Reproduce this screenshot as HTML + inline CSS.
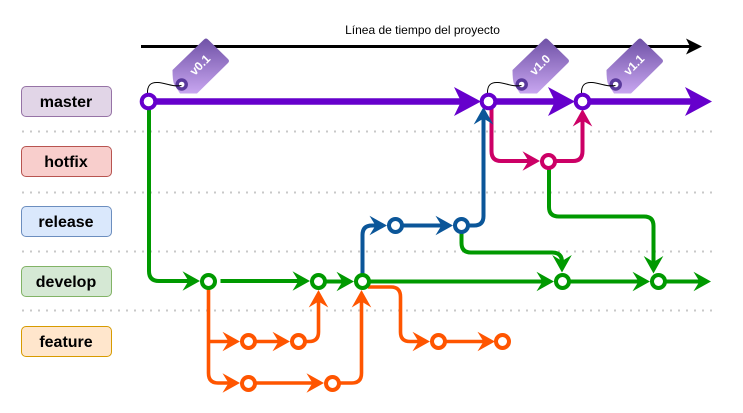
<!DOCTYPE html>
<html><head><meta charset="utf-8">
<style>
html,body{margin:0;padding:0;background:#fff;width:743px;height:413px;overflow:hidden}
svg{display:block}
text{font-family:"Liberation Sans",sans-serif}
.l{font-size:16px;font-weight:bold;text-anchor:middle;fill:#000}
.t{font-size:12px;font-weight:bold;fill:#fff;text-anchor:middle}
.d{stroke:#c8c8c8;stroke-width:2;stroke-dasharray:2 6;fill:none}
.p{fill:none;stroke-width:4;stroke-linejoin:round}
.n{fill:#fff;stroke-width:4}
</style></head><body>
<svg width="743" height="413" viewBox="0 0 743 413" xmlns="http://www.w3.org/2000/svg">
<defs>
<linearGradient id="g" x1="0" y1="0" x2="0" y2="1"><stop offset="0" stop-color="#6f51a6"/><stop offset="1" stop-color="#c8a6f0"/></linearGradient>
<path id="a" d="M0 0L-17.500 9.800L-11.500 0L-17.500 -9.800Z"/>
<path id="A" d="M0 0L-27 14.500L-20 0L-27 -14.500Z"/>
<g id="tag">
<path d="M204 39.500Q206 37.500 208 39.500L228 59Q230 61 228 63L197 93.500L180 93.500L174 84Q172.500 80 172.500 70Z" fill="url(#g)"/>
<circle cx="181.700" cy="84.500" r="4.500" fill="#fff" stroke="#5a3a9c" stroke-width="3.500"/>
<path d="M147.500 94C147 85 151 82 158 82.500C166 83 172 87 181.500 85.500" fill="none" stroke="#000" stroke-width="1"/>
</g>
</defs>

<text x="422.500" y="34" font-size="12" text-anchor="middle" fill="#000">Línea de tiempo del proyecto</text>
<path d="M141 46.500H690" stroke="#000" stroke-width="3" fill="none"/>
<path d="M702 46.500L686 54.500L690 46.500L686 38.500Z" fill="#000"/>

<path class="d" d="M22 131.500H713M22 192.500H713M22 251.500H713M22 310.500H713"/>

<g stroke-width="1">
<rect x="21.500" y="86.500" width="90" height="30" rx="4.500" fill="#e1d5e7" stroke="#9673a6"/>
<rect x="21.500" y="146.500" width="90" height="30" rx="4.500" fill="#f8cecc" stroke="#b85450"/>
<rect x="21.500" y="206.500" width="90" height="30" rx="4.500" fill="#dae8fc" stroke="#6c8ebf"/>
<rect x="21.500" y="266.500" width="90" height="30" rx="4.500" fill="#d5e8d4" stroke="#82b366"/>
<rect x="21.500" y="326.500" width="90" height="30" rx="4.500" fill="#ffe6cc" stroke="#d79b00"/>
</g>
<text class="l" x="66" y="107">master</text>
<text class="l" x="66" y="167">hotfix</text>
<text class="l" x="66" y="227">release</text>
<text class="l" x="66" y="287">develop</text>
<text class="l" x="66" y="347">feature</text>

<!-- green long -->
<g stroke="#009900" class="p">
<path d="M149 105V271Q149 281 159 281H190"/>
<path d="M220.500 281H300"/>
<path d="M318 281.500H344"/>
<path d="M362 281.500H544"/>
<path d="M562 281.500H640"/>
<path d="M658 281.500H702"/>
<path d="M549 168V207Q549 216.500 559 216.500H644Q653.500 216.500 653.500 226V265"/>
<path d="M461.500 232V243Q461.500 252.500 471 252.500H552Q562 252.500 562 262V264"/>
</g>
<g fill="#009900">
<use href="#a" transform="translate(200 281)"/>
<use href="#a" transform="translate(310 281)"/>
<use href="#a" transform="translate(354 281.500)"/>
<use href="#a" transform="translate(554 281.500)"/>
<use href="#a" transform="translate(650 281.500)"/>
<use href="#a" transform="translate(711 281.500)"/>
<use href="#a" transform="translate(653.500 273.500) rotate(90)"/>
<use href="#a" transform="translate(562 272.500) rotate(90)"/>
</g>

<!-- hotfix -->
<g stroke="#cc0066" class="p">
<path d="M491.500 106V151Q491.500 161 501 161H530"/>
<path d="M548 161H573Q582.500 161 582.500 151V120"/>
</g>
<g fill="#cc0066">
<use href="#a" transform="translate(540 161)"/>
<use href="#a" transform="translate(582.500 109) rotate(-90)"/>
</g>

<!-- release -->
<g stroke="#0b5699" class="p">
<path d="M362.500 275V235Q362.500 225.500 372 225.500H378"/>
<path d="M395 225.500H444"/>
<path d="M461 225.500H474Q483.500 225.500 483.500 216V118"/>
</g>
<g fill="#0b5699">
<use href="#a" transform="translate(387 225.500)"/>
<use href="#a" transform="translate(453 225.500)"/>
<use href="#a" transform="translate(483.500 107) rotate(-90)"/>
</g>

<!-- feature -->
<g stroke="#ff5500" class="p" style="stroke-width:3.600">
<path d="M208.500 288V373Q208.500 383 218 383H232"/>
<path d="M208.500 341.500H232"/>
<path d="M248 341.500H281"/>
<path d="M298 341.500H309Q318.500 341.500 318.500 332V300"/>
<path d="M248 383H315"/>
<path d="M332 383H352Q361.500 383 361.500 373V300"/>
<path d="M368 287H391Q400.500 287 400.500 297V332Q400.500 341.500 410 341.500H422"/>
<path d="M438 341.500H486"/>
</g>
<g fill="#ff5500">
<use href="#a" transform="translate(240 341.500)"/>
<use href="#a" transform="translate(290 341.500)"/>
<use href="#a" transform="translate(240 383)"/>
<use href="#a" transform="translate(324 383)"/>
<use href="#a" transform="translate(318.500 290) rotate(-90)"/>
<use href="#a" transform="translate(361.500 290) rotate(-90)"/>
<use href="#a" transform="translate(430 341.500)"/>
<use href="#a" transform="translate(495 341.500)"/>
</g>

<!-- master -->
<g stroke="#6600cc" stroke-width="6.500" fill="none">
<path d="M148 101.500H464"/>
<path d="M488 101.500H558"/>
<path d="M582 101.500H695"/>
</g>
<g fill="#6600cc">
<use href="#A" transform="translate(481 101.500)"/>
<use href="#A" transform="translate(575 101.500)"/>
<use href="#A" transform="translate(712 101.500)"/>
</g>

<!-- tags -->
<use href="#tag"/>
<use href="#tag" transform="translate(340 0)"/>
<use href="#tag" transform="translate(434 0)"/>
<text class="t" transform="translate(200 65) rotate(-45)" y="4">v0.1</text>
<text class="t" transform="translate(540 65) rotate(-45)" y="4">v1.0</text>
<text class="t" transform="translate(634 65) rotate(-45)" y="4">v1.1</text>

<!-- nodes -->
<g class="n" stroke="#6600cc">
<circle cx="148.500" cy="101.500" r="6.800"/>
<circle cx="488.500" cy="101.500" r="6.800"/>
<circle cx="582.500" cy="101.500" r="6.800"/>
</g>
<g class="n" stroke="#cc0066"><circle cx="548.500" cy="161.500" r="6.500"/></g>
<g class="n" stroke="#0b5699">
<circle cx="395.500" cy="225.500" r="6.500"/>
<circle cx="461.500" cy="225.500" r="6.500"/>
</g>
<g class="n" stroke="#009900">
<circle cx="208.500" cy="281.500" r="6.500"/>
<circle cx="318.500" cy="281.500" r="6.500"/>
<circle cx="362.500" cy="281.500" r="6.500"/>
<circle cx="562.500" cy="281.500" r="6.500"/>
<circle cx="658.500" cy="281.500" r="6.500"/>
</g>
<g class="n" stroke="#ff5500">
<circle cx="248.500" cy="341.500" r="6.500"/>
<circle cx="298.500" cy="341.500" r="6.500"/>
<circle cx="248.500" cy="383.500" r="6.500"/>
<circle cx="332.500" cy="383.500" r="6.500"/>
<circle cx="438.500" cy="341.500" r="6.500"/>
<circle cx="502.500" cy="341.500" r="6.500"/>
</g>
</svg>
</body></html>
